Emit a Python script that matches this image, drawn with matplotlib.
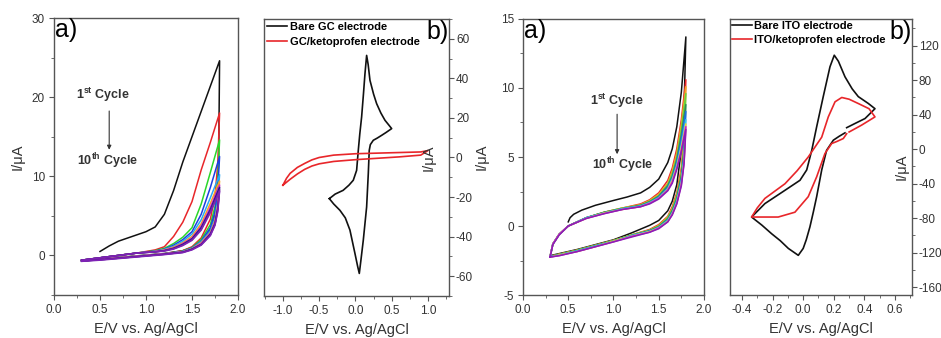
import matplotlib
matplotlib.use('Agg')
import matplotlib.pyplot as plt
from matplotlib.ticker import MultipleLocator, FormatStrFormatter

plt.rcParams['font.family'] = ['Liberation Sans', 'DejaVu Sans']
plt.rcParams['axes.unicode_minus'] = False
plt.rcParams['mathtext.fontset'] = 'custom'
plt.rcParams['mathtext.rm'] = 'Liberation Sans'
plt.rcParams['mathtext.bf'] = 'Liberation Sans:bold'

# ---------------- data ----------------
# a) GC electrode, 10 successive cycles (E in V, I in uA)
gc_first_E = [0.5, 0.6, 0.7, 0.8, 0.9, 1.0, 1.1, 1.2, 1.3, 1.4, 1.5, 1.6, 1.7, 1.8,
              1.79, 1.77, 1.74, 1.7, 1.6, 1.5, 1.4, 1.2, 1.0, 0.7, 0.5, 0.3]
gc_first_I = [0.5, 1.2, 1.8, 2.2, 2.6, 3.0, 3.6, 5.2, 8.2, 11.8, 15.0, 18.2, 21.4, 24.6,
              12.0, 7.0, 4.5, 3.2, 1.7, 1.0, 0.6, 0.25, 0.05, -0.25, -0.45, -0.65]

gc_E = [0.3, 0.5, 0.7, 0.9, 1.1, 1.2, 1.3, 1.4, 1.5, 1.6, 1.7, 1.8,
        1.78, 1.75, 1.7, 1.6, 1.5, 1.4, 1.2, 1.0, 0.7, 0.5, 0.3]
gc_cycle2 = [-0.6, -0.3, 0.0, 0.3, 0.7, 1.1, 2.4, 4.2, 6.8, 10.8, 14.3, 18.0,
             11.5, 7.5, 4.6, 2.2, 1.1, 0.6, 0.2, 0.0, -0.3, -0.5, -0.7]
gc_cycle3 = [-0.6, -0.3, 0.0, 0.3, 0.6, 0.9, 1.5, 2.3, 3.5, 6.5, 10.5, 14.6,
             9.5, 6.2, 3.9, 2.0, 1.0, 0.55, 0.2, 0.0, -0.3, -0.5, -0.7]
gc_cycle4 = [-0.6, -0.3, 0.0, 0.3, 0.55, 0.8, 1.3, 2.0, 3.0, 5.2, 8.6, 12.5,
             8.3, 5.5, 3.5, 1.8, 0.95, 0.5, 0.2, 0.0, -0.3, -0.5, -0.7]
gc_cycle5 = [-0.6, -0.3, 0.0, 0.3, 0.5, 0.75, 1.15, 1.8, 2.7, 4.5, 7.3, 10.2,
             6.9, 4.7, 3.1, 1.7, 0.9, 0.5, 0.2, 0.0, -0.3, -0.5, -0.7]
gc_cycle6 = [-0.6, -0.3, 0.0, 0.3, 0.5, 0.7, 1.05, 1.6, 2.4, 4.0, 6.6, 9.4,
             6.4, 4.4, 2.9, 1.6, 0.85, 0.45, 0.2, 0.0, -0.3, -0.5, -0.7]
gc_cycle7 = [-0.6, -0.3, 0.0, 0.3, 0.5, 0.65, 0.95, 1.5, 2.2, 3.7, 6.1, 8.9,
             6.1, 4.2, 2.8, 1.5, 0.8, 0.45, 0.2, 0.0, -0.3, -0.5, -0.7]
gc_cycle8 = [-0.6, -0.3, 0.0, 0.3, 0.45, 0.6, 0.9, 1.4, 2.1, 3.5, 5.8, 8.6,
             5.9, 4.0, 2.7, 1.4, 0.8, 0.4, 0.15, -0.05, -0.35, -0.55, -0.7]
gc_cycle9 = [-0.6, -0.3, 0.0, 0.3, 0.45, 0.6, 0.85, 1.3, 2.0, 3.3, 5.6, 8.3,
             5.7, 3.9, 2.6, 1.35, 0.75, 0.4, 0.15, -0.05, -0.35, -0.55, -0.7]
gc_cycle10 = [-0.6, -0.3, 0.0, 0.3, 0.45, 0.55, 0.8, 1.25, 1.9, 3.2, 5.4, 8.1,
              5.5, 3.8, 2.5, 1.3, 0.7, 0.35, 0.1, -0.1, -0.4, -0.6, -0.75]

# b) GC: bare vs ketoprofen-modified
bare_gc_E = [-0.36, -0.28, -0.17, -0.09, -0.03, 0.016, 0.039, 0.06, 0.085, 0.11, 0.131,
             0.154, 0.175, 0.2, 0.25, 0.292, 0.35, 0.407, 0.46, 0.499,
             0.42, 0.361, 0.3, 0.246, 0.205, 0.19, 0.177, 0.154, 0.108, 0.075, 0.053,
             0.03, -0.007, -0.076, -0.14, -0.214, -0.3, -0.36]
bare_gc_I = [-20.8, -18.5, -16.6, -14.0, -11.5, -6.5, 3.6, 12.0, 20.5, 32.0, 42.3,
             51.6, 47.0, 39.0, 32.0, 27.2, 22.5, 18.8, 16.4, 14.6,
             12.6, 11.2, 9.8, 8.7, 6.5, 3.6, -8.1, -25.0, -41.8, -52.0, -58.6,
             -55.0, -48.5, -36.7, -30.5, -26.7, -23.5, -20.8]
keto_gc_E = [-1.0, -0.95, -0.9, -0.8, -0.7, -0.6, -0.5, -0.3, 0.0, 0.3, 0.6, 0.9, 1.0,
             0.9, 0.6, 0.3, 0.0, -0.3, -0.5, -0.6, -0.7, -0.8, -0.9, -0.95, -1.0]
keto_gc_I = [-14, -10.5, -8, -5, -3, -1.2, 0.0, 1.2, 1.9, 2.2, 2.5, 2.8, 3.5,
             1.2, 0.3, -0.4, -1.1, -2.0, -3.2, -4.3, -6.0, -8.3, -11, -12.5, -14]

# a) ITO electrode, 10 successive cycles
ito_first_E = [0.5, 0.52, 0.56, 0.65, 0.8, 1.0, 1.15, 1.3, 1.4, 1.5, 1.6, 1.65, 1.7, 1.75, 1.8,
               1.78, 1.75, 1.7, 1.65, 1.6, 1.5, 1.4, 1.2, 1.0, 0.8, 0.6, 0.4, 0.3]
ito_first_I = [0.3, 0.6, 0.85, 1.15, 1.5, 1.85, 2.1, 2.4, 2.8, 3.4, 4.6, 5.6, 7.2, 9.7, 13.7,
               8.5, 5.5, 3.0, 1.8, 1.1, 0.4, 0.05, -0.5, -1.0, -1.35, -1.7, -2.0, -2.15]

ito_E = [0.3, 0.33, 0.4, 0.5, 0.7, 0.9, 1.1, 1.3, 1.4, 1.5, 1.6, 1.65, 1.7, 1.75, 1.8,
         1.78, 1.75, 1.7, 1.65, 1.6, 1.5, 1.4, 1.2, 1.0, 0.8, 0.6, 0.4, 0.3]
ito_cycle2 = [-2.2, -1.3, -0.6, 0.0, 0.6, 1.0, 1.3, 1.6, 1.9, 2.4, 3.3, 4.2, 5.6, 7.7, 10.6,
              6.5, 4.2, 2.4, 1.4, 0.7, 0.1, -0.25, -0.65, -1.05, -1.4, -1.75, -2.05, -2.2]
ito_cycle3 = [-2.2, -1.3, -0.6, 0.0, 0.6, 1.0, 1.3, 1.55, 1.85, 2.3, 3.1, 4.0, 5.3, 7.4, 10.1,
              6.2, 4.0, 2.3, 1.3, 0.65, 0.05, -0.3, -0.65, -1.05, -1.4, -1.75, -2.05, -2.2]
ito_cycle4 = [-2.2, -1.3, -0.6, 0.0, 0.6, 1.0, 1.3, 1.5, 1.8, 2.2, 3.0, 3.8, 5.0, 7.0, 9.6,
              5.9, 3.8, 2.2, 1.2, 0.6, 0.0, -0.3, -0.65, -1.05, -1.4, -1.75, -2.05, -2.2]
ito_cycle5 = [-2.2, -1.3, -0.6, 0.0, 0.6, 1.0, 1.25, 1.5, 1.75, 2.15, 2.9, 3.6, 4.8, 6.6, 8.8,
              5.5, 3.6, 2.0, 1.1, 0.5, -0.05, -0.35, -0.7, -1.1, -1.45, -1.8, -2.1, -2.2]
ito_cycle6 = [-2.2, -1.3, -0.6, 0.0, 0.6, 0.95, 1.25, 1.45, 1.7, 2.1, 2.8, 3.5, 4.6, 6.3, 8.3,
              5.2, 3.4, 1.9, 1.0, 0.45, -0.1, -0.35, -0.7, -1.1, -1.45, -1.8, -2.1, -2.2]
ito_cycle7 = [-2.2, -1.3, -0.6, 0.0, 0.6, 0.95, 1.25, 1.45, 1.7, 2.05, 2.7, 3.4, 4.4, 5.9, 7.7,
              4.9, 3.2, 1.8, 0.95, 0.4, -0.1, -0.4, -0.7, -1.1, -1.45, -1.8, -2.1, -2.25]
ito_cycle8 = [-2.2, -1.3, -0.6, 0.0, 0.55, 0.95, 1.2, 1.4, 1.65, 2.0, 2.65, 3.3, 4.3, 5.7, 7.4,
              4.7, 3.1, 1.7, 0.9, 0.35, -0.15, -0.4, -0.75, -1.1, -1.5, -1.85, -2.1, -2.25]
ito_cycle9 = [-2.2, -1.3, -0.6, 0.0, 0.55, 0.9, 1.2, 1.4, 1.65, 2.0, 2.6, 3.2, 4.2, 5.5, 7.2,
              4.6, 3.0, 1.65, 0.85, 0.3, -0.15, -0.45, -0.75, -1.15, -1.5, -1.85, -2.15, -2.25]
ito_cycle10 = [-2.25, -1.35, -0.65, 0.0, 0.55, 0.9, 1.2, 1.4, 1.6, 1.95, 2.55, 3.1, 4.1, 5.4, 7.0,
               4.5, 2.9, 1.6, 0.8, 0.3, -0.2, -0.45, -0.8, -1.15, -1.5, -1.85, -2.15, -2.25]

# b) ITO: bare vs ketoprofen-modified (each trace starts and ends near 0.28 V)
bare_ito_E = [0.273, 0.235, 0.197, 0.153, 0.121, 0.088, 0.066, 0.044, 0.02, 0.0, -0.032,
              -0.097, -0.15, -0.206, -0.27, -0.337,
              -0.25, -0.119, -0.021, 0.023, 0.056, 0.088, 0.131, 0.175, 0.203, 0.23,
              0.273, 0.32, 0.36, 0.426, 0.469, 0.404, 0.34, 0.284]
bare_ito_I = [19, 15, 10.5, -1.2, -24, -55, -73, -90, -105, -115, -123,
              -115, -106, -98, -88, -78.6,
              -63, -47.6, -36, -24, -1.2, 26, 61, 95.6, 109, 102,
              84, 70, 61, 53, 47, 35.6, 30, 25]
keto_ito_E = [0.284, 0.262, 0.22, 0.186, 0.142, 0.088, 0.033, -0.054, -0.163, -0.27, -0.337,
              -0.3, -0.25, -0.119, -0.04, 0.033, 0.121, 0.164, 0.208, 0.252, 0.3, 0.36,
              0.43, 0.469, 0.382, 0.3]
keto_ito_I = [18, 12.4, 9, 6.6, -5, -32, -55, -73, -78.6, -78.6, -78.6,
              -68, -57, -40, -25, -9, 14, 37.5, 55, 60, 58, 53,
              47, 37.5, 28, 20]

gc_cycles = [gc_cycle2, gc_cycle3, gc_cycle4, gc_cycle5, gc_cycle6,
             gc_cycle7, gc_cycle8, gc_cycle9, gc_cycle10]
gc_colors = ['#e8262a', '#2bd62b', '#1c3fe0', '#29a8f5', '#f5a623',
             '#d21fd2', '#1a237e', '#6a1b9a', '#7e22b5']
ito_cycles = [ito_cycle2, ito_cycle3, ito_cycle4, ito_cycle5, ito_cycle6,
              ito_cycle7, ito_cycle8, ito_cycle9, ito_cycle10]
ito_colors = ['#e8262a', '#f5a623', '#6ad13a', '#2e8b57', '#1c6fe0',
              '#35c8e8', '#f2d23a', '#d21fd2', '#8a1fb5']

spine_col = '#555555'
txt_col = '#333333'


def style_axes(ax, right_ticks=False):
    for s in ax.spines.values():
        s.set_color(spine_col)
        s.set_linewidth(1.0)
    ax.tick_params(which='both', direction='out', colors=spine_col,
                   labelcolor=txt_col, labelsize=8.5, top=False)
    ax.tick_params(which='major', length=3.5, pad=3)
    ax.tick_params(which='minor', length=2)
    if right_ticks:
        ax.tick_params(axis='y', which='both', left=False, right=True,
                       labelleft=False, labelright=True)
        ax.tick_params(axis='y', which='major', pad=1.5)
    else:
        ax.tick_params(axis='y', which='both', right=False)
    ax.set_xlabel('E/V vs. Ag/AgCl', fontsize=10.5, color=txt_col, labelpad=4)


fig = plt.figure(figsize=(9.41, 3.38), dpi=100)

# ---- panel a) GC ----
ax1 = fig.add_axes([0.0574, 0.1272, 0.1955, 0.8195])
ax1.plot(gc_first_E, gc_first_I, color='#111111', lw=1.1)
for vals, c in zip(gc_cycles, gc_colors):
    ax1.plot(gc_E, vals, color=c, lw=1.1)
ax1.set_xlim(0, 2)
ax1.set_ylim(-5, 30)
ax1.xaxis.set_major_locator(MultipleLocator(0.5))
ax1.xaxis.set_minor_locator(MultipleLocator(0.25))
ax1.xaxis.set_major_formatter(FormatStrFormatter('%.1f'))
ax1.yaxis.set_major_locator(MultipleLocator(10))
ax1.yaxis.set_minor_locator(MultipleLocator(5))
style_axes(ax1)
ax1.set_ylabel('I/\u03bcA', fontsize=10.5, color=txt_col, labelpad=5)
ax1.text(0.005, 1.0, 'a)', transform=ax1.transAxes, fontsize=18, va='top', ha='left')
ax1.text(0.53, 20.3, r'1$^{\mathbf{st}}$ Cycle', fontsize=9, fontweight='bold',
         ha='center', va='center', color=txt_col)
ax1.annotate('', xy=(0.60, 13.0), xytext=(0.60, 18.6),
             arrowprops=dict(arrowstyle='-|>', color=txt_col, lw=0.8, mutation_scale=6))
ax1.text(0.58, 11.9, r'10$^{\mathbf{th}}$ Cycle', fontsize=9, fontweight='bold',
         ha='center', va='center', color=txt_col)

# ---- panel b) GC ----
ax2 = fig.add_axes([0.2806, 0.1243, 0.1966, 0.8195])
ax2.plot(bare_gc_E, bare_gc_I, color='#111111', lw=1.2, label='Bare GC electrode')
ax2.plot(keto_gc_E, keto_gc_I, color='#e8262a', lw=1.2, label='GC/ketoprofen electrode')
ax2.set_xlim(-1.26, 1.29)
ax2.set_ylim(-70, 70)
ax2.xaxis.set_major_locator(MultipleLocator(0.5))
ax2.xaxis.set_minor_locator(MultipleLocator(0.25))
ax2.xaxis.set_major_formatter(FormatStrFormatter('%.1f'))
ax2.yaxis.set_major_locator(MultipleLocator(20))
ax2.yaxis.set_minor_locator(MultipleLocator(10))
style_axes(ax2, right_ticks=True)
ax2.legend(loc='upper left', frameon=False, prop={'weight': 'bold', 'size': 8},
           handlelength=1.8, handletextpad=0.2, borderaxespad=0.0, borderpad=0.3,
           labelspacing=0.45)
ax2.text(0.89, 0.5, 'I/\u03bcA', transform=ax2.transAxes, rotation=90, fontsize=10.5,
         color=txt_col, ha='center', va='center')
ax2.text(1.0, 0.995, 'b)', transform=ax2.transAxes, fontsize=18, va='top', ha='right')

# ---- panel a) ITO ----
ax3 = fig.add_axes([0.5558, 0.1272, 0.1923, 0.8166])
ax3.plot(ito_first_E, ito_first_I, color='#111111', lw=1.1)
for vals, c in zip(ito_cycles, ito_colors):
    ax3.plot(ito_E, vals, color=c, lw=1.1)
ax3.set_xlim(0, 2)
ax3.set_ylim(-5, 15)
ax3.xaxis.set_major_locator(MultipleLocator(0.5))
ax3.xaxis.set_minor_locator(MultipleLocator(0.25))
ax3.xaxis.set_major_formatter(FormatStrFormatter('%.1f'))
ax3.yaxis.set_major_locator(MultipleLocator(5))
ax3.yaxis.set_minor_locator(MultipleLocator(2.5))
style_axes(ax3)
ax3.set_ylabel('I/\u03bcA', fontsize=10.5, color=txt_col, labelpad=9)
ax3.text(0.005, 1.0, 'a)', transform=ax3.transAxes, fontsize=18, va='top', ha='left')
ax3.text(1.04, 9.1, r'1$^{\mathbf{st}}$ Cycle', fontsize=9, fontweight='bold',
         ha='center', va='center', color=txt_col)
ax3.annotate('', xy=(1.04, 5.0), xytext=(1.04, 8.3),
             arrowprops=dict(arrowstyle='-|>', color=txt_col, lw=0.8, mutation_scale=6))
ax3.text(1.1, 4.4, r'10$^{\mathbf{th}}$ Cycle', fontsize=9, fontweight='bold',
         ha='center', va='center', color=txt_col)

# ---- panel b) ITO ----
ax4 = fig.add_axes([0.7758, 0.1272, 0.1934, 0.8166])
ax4.plot(bare_ito_E, bare_ito_I, color='#111111', lw=1.2, label='Bare ITO electrode')
ax4.plot(keto_ito_E, keto_ito_I, color='#e8262a', lw=1.2, label='ITO/ketoprofen electrode')
ax4.set_xlim(-0.478, 0.711)
ax4.set_ylim(-169, 151)
ax4.xaxis.set_major_locator(MultipleLocator(0.2))
ax4.xaxis.set_minor_locator(MultipleLocator(0.1))
ax4.xaxis.set_major_formatter(FormatStrFormatter('%.1f'))
ax4.yaxis.set_major_locator(MultipleLocator(40))
ax4.yaxis.set_minor_locator(MultipleLocator(20))
style_axes(ax4, right_ticks=True)
ax4.legend(loc='upper left', frameon=False, prop={'weight': 'bold', 'size': 8},
           handlelength=1.8, handletextpad=0.2, borderaxespad=0.0, borderpad=0.2,
           labelspacing=0.35)
ax4.text(0.945, 0.464, 'I/\u03bcA', transform=ax4.transAxes, rotation=90, fontsize=10.5,
         color=txt_col, ha='center', va='center')
ax4.text(1.0, 0.995, 'b)', transform=ax4.transAxes, fontsize=18, va='top', ha='right')

fig.savefig('out.png', dpi=100)
